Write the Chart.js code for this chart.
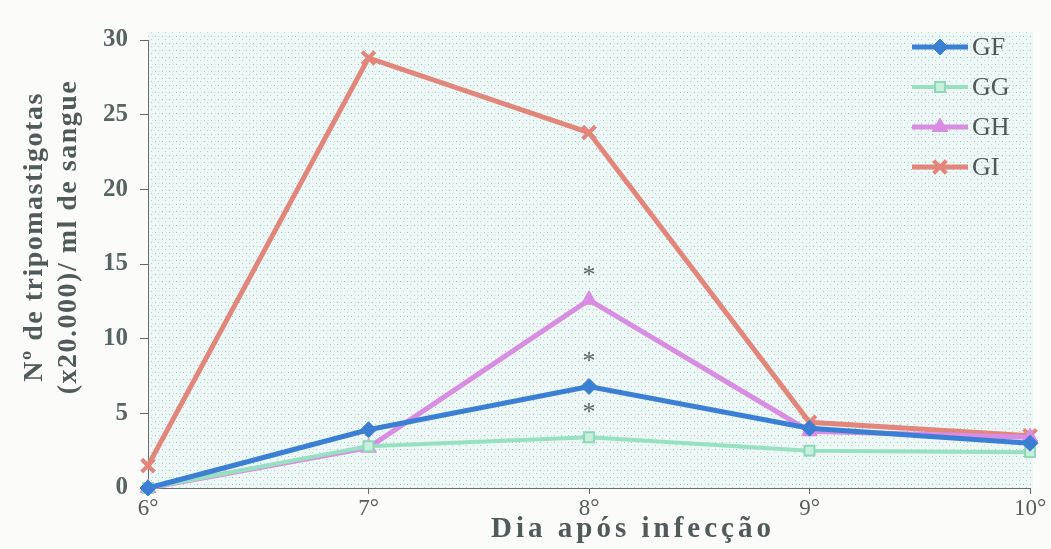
<!DOCTYPE html>
<html lang="pt">
<head>
<meta charset="utf-8">
<title>Parasitemia por grupo</title>
<script src="https://cdn.jsdelivr.net/npm/chart.js@4.4.1/dist/chart.umd.min.js"></script>
<style>
  html, body { margin: 0; padding: 0; background: #fbfcfa; }
  #wrap { width: 1051px; height: 549px; }
</style>
</head>
<body>
<div id="wrap"><canvas id="grafico" width="1051" height="549"></canvas></div>
<script>
// Dias após a infecção (eixo x)
const dias = ['6°', '7°', '8°', '9°', '10°'];

// Nº de tripomastigotas (x20.000)/ml de sangue, por grupo
const serieGF = [0, 3.9, 6.8, 4.0, 3.0];
const serieGG = [0, 2.8, 3.4, 2.5, 2.4];
const serieGH = [0, 2.7, 12.6, 3.8, 3.4];
const serieGI = [1.5, 28.8, 23.8, 4.4, 3.5];

// Marcas do eixo y
const marcasY = [0, 5, 10, 15, 20, 25, 30];

// Grupos com diferença significativa no 8º dia (asterisco)
const comAsterisco = ['GH', 'GF', 'GG'];
const diaAsterisco = '8°';

const tituloY = ['Nº de tripomastigotas', '(x20.000)/ ml de sangue'];
const tituloX = 'Dia após infecção';

const SERIF = "'Liberation Serif', 'DejaVu Serif', serif";

// stippled background of the plotting area
function padraoPontilhado(ctx) {
  const c = document.createElement('canvas');
  c.width = 7; c.height = 7;
  const g = c.getContext('2d');
  g.fillStyle = '#ecf7f6';
  g.fillRect(0, 0, 7, 7);
  g.fillStyle = 'rgba(70,150,150,0.50)';
  g.fillRect(1, 1, 1, 1);
  g.fillStyle = 'rgba(70,150,150,0.35)';
  g.fillRect(4, 4, 1, 1);
  g.fillStyle = 'rgba(110,170,170,0.25)';
  g.fillRect(5, 1, 1, 1);
  return ctx.createPattern(c, 'repeat');
}

const fundoArea = {
  id: 'fundoArea',
  beforeDraw(chart) {
    const { ctx, chartArea: a } = chart;
    ctx.save();
    ctx.fillStyle = padraoPontilhado(ctx);
    ctx.fillRect(a.left, a.top - 8, a.right - a.left + 3, a.bottom - a.top + 8);
    ctx.restore();
  }
};

// axis titles, drawn with letter spacing
const titulos = {
  id: 'titulos',
  afterDraw(chart) {
    const { ctx } = chart;
    ctx.save();
    ctx.fillStyle = '#4f5a5a';
    ctx.textAlign = 'center';
    ctx.textBaseline = 'middle';
    ctx.letterSpacing = '1.5px';
    ctx.font = 'bold 28px ' + SERIF;
    ctx.translate(0, 237);
    ctx.rotate(-Math.PI / 2);
    ctx.fillText(tituloY[0], 0, 35);
    ctx.fillText(tituloY[1], 0, 69);
    ctx.restore();

    ctx.save();
    ctx.fillStyle = '#4f5a5a';
    ctx.textAlign = 'center';
    ctx.textBaseline = 'middle';
    ctx.letterSpacing = '4px';
    ctx.font = 'bold 29px ' + SERIF;
    ctx.fillText(tituloX, 633, 530);
    ctx.restore();
  }
};

// legend with line + marker samples inside the plot, top right
const legendaInterna = {
  id: 'legendaInterna',
  afterDatasetsDraw(chart) {
    const { ctx } = chart;
    const x0 = 912, x1 = 968, yTopo = 47, passo = 40;
    chart.data.datasets.forEach((ds, i) => {
      const y = yTopo + i * passo;
      ctx.save();
      ctx.strokeStyle = ds.borderColor;
      ctx.lineWidth = ds.borderWidth;
      ctx.beginPath();
      ctx.moveTo(x0, y);
      ctx.lineTo(x1, y);
      ctx.stroke();
      ctx.fillStyle = ds.pointBackgroundColor;
      ctx.strokeStyle = ds.pointBorderColor;
      ctx.lineWidth = ds.pointBorderWidth;
      Chart.helpers.drawPoint(ctx, {
        pointStyle: ds.pointStyle,
        radius: ds.pointRadius,
        rotation: 0,
        borderWidth: ds.pointBorderWidth
      }, (x0 + x1) / 2, y);
      ctx.fillStyle = '#4f5858';
      ctx.font = '26px ' + SERIF;
      ctx.textAlign = 'left';
      ctx.textBaseline = 'middle';
      ctx.fillText(ds.label, x1 + 4, y + 1);
      ctx.restore();
    });
  }
};

// significance marks above the chosen points
const asteriscos = {
  id: 'asteriscos',
  afterDatasetsDraw(chart) {
    const { ctx, scales } = chart;
    const idx = dias.indexOf(diaAsterisco);
    const x = scales.x.getPixelForValue(idx);
    ctx.save();
    ctx.fillStyle = '#5f6464';
    ctx.font = '26px ' + SERIF;
    ctx.textAlign = 'center';
    ctx.textBaseline = 'alphabetic';
    const m = ctx.measureText('*');
    const meio = (m.actualBoundingBoxAscent - m.actualBoundingBoxDescent) / 2;
    chart.data.datasets.forEach(ds => {
      if (!comAsterisco.includes(ds.label)) return;
      const y = scales.y.getPixelForValue(ds.data[idx]) - 29;
      ctx.fillText('*', x, y + meio);
    });
    ctx.restore();
  }
};

function serie(label, dados, cor, estilo, extra) {
  return Object.assign({
    label: label,
    data: dados,
    borderColor: cor,
    backgroundColor: cor,
    borderWidth: 5,
    pointStyle: estilo,
    pointRadius: 7,
    pointHoverRadius: 7,
    pointBackgroundColor: cor,
    pointBorderColor: cor,
    pointBorderWidth: 1,
    tension: 0,
    fill: false,
    clip: false
  }, extra || {});
}

new Chart(document.getElementById('grafico'), {
  type: 'line',
  data: {
    labels: dias,
    datasets: [
      serie('GF', serieGF, '#3b7fd4', 'rectRot', { pointRadius: 8 }),
      serie('GG', serieGG, '#98e0c2', 'rect', {
        borderWidth: 4, pointRadius: 7,
        pointBackgroundColor: '#c9f0de', pointBorderColor: '#8fd8b8', pointBorderWidth: 2
      }),
      serie('GH', serieGH, '#d98de2', 'triangle', { pointRadius: 9 }),
      serie('GI', serieGI, '#e2857b', 'crossRot', { pointRadius: 9, pointBorderWidth: 4 })
    ]
  },
  options: {
    responsive: false,
    animation: false,
    layout: { padding: { top: 40, right: 21, left: 0, bottom: 0 } },
    plugins: {
      legend: { display: false },
      tooltip: { enabled: false }
    },
    scales: {
      x: {
        type: 'category',
        offset: false,
        grid: { display: true, drawOnChartArea: false, tickLength: 6, color: '#666' },
        border: { display: true, color: '#6a6a6a', width: 1 },
        ticks: { color: '#555a5a', font: { family: SERIF, size: 23 }, padding: 1, maxRotation: 0 },
        afterFit(scale) { scale.height = 61; }
      },
      y: {
        min: 0,
        max: 30,
        afterBuildTicks(scale) { scale.ticks = marcasY.map(v => ({ value: v })); },
        grid: { display: true, drawOnChartArea: false, tickLength: 8, color: '#666' },
        border: { display: true, color: '#6a6a6a', width: 1 },
        ticks: { color: '#566464', font: { family: SERIF, size: 25, weight: 'bold' }, padding: 12 },
        afterFit(scale) { scale.width = 148; }
      }
    }
  },
  plugins: [fundoArea, asteriscos, legendaInterna, titulos]
});
</script>
</body>
</html>
